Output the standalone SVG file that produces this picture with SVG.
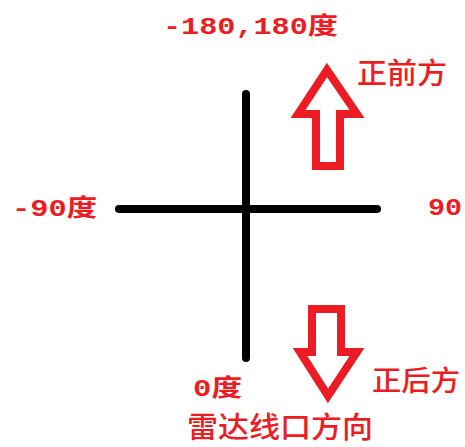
<svg xmlns="http://www.w3.org/2000/svg" width="465" height="447" viewBox="0 0 465 447">
<style>
.axis{stroke:#000;stroke-width:8;stroke-linecap:round;fill:none}
.arrow{stroke:#ED1C24;stroke-width:8;stroke-linejoin:miter;fill:#fff}
.lbl{fill:#ED1C24;font-family:"Liberation Mono","Noto Sans CJK SC",monospace;font-weight:bold}
.cjk{fill:#ED1C24;font-family:"Noto Sans CJK SC",sans-serif;font-weight:500}
</style>
<rect width="465" height="447" fill="#fff"/>
<g id="connectors">
<line class="axis" x1="246" y1="94" x2="246" y2="358"/>
<line class="axis" x1="119" y1="209" x2="377" y2="209"/>
</g>
<g id="arrow-front">
<path class="arrow" d="M327,70 L357,114 L340,114 L340,166 L316,166 L316,114 L298,114 Z"/>
</g>
<g id="arrow-back">
<path class="arrow" d="M312,309 L341,309 L341,352 L357,352 L328,396 L300,352 L312,352 Z"/>
</g>
<g id="label-top"><text class="lbl" x="163" y="34" font-size="24" textLength="175" lengthAdjust="spacingAndGlyphs">-180,180度</text></g>
<g id="label-front"><text class="cjk" x="357" y="84" font-size="29" textLength="90" lengthAdjust="spacingAndGlyphs">正前方</text></g>
<g id="label-left"><text class="lbl" x="12" y="216" font-size="24" textLength="85" lengthAdjust="spacingAndGlyphs">-90度</text></g>
<g id="label-right"><text class="lbl" x="428" y="215" font-size="24" textLength="34" lengthAdjust="spacingAndGlyphs">90</text></g>
<g id="label-zero"><text class="lbl" x="193" y="396" font-size="24" textLength="49" lengthAdjust="spacingAndGlyphs">0度</text></g>
<g id="label-back"><text class="cjk" x="372" y="391" font-size="28" textLength="88" lengthAdjust="spacingAndGlyphs">正后方</text></g>
<g id="label-radar"><text class="cjk" x="187" y="438" font-size="29" textLength="186" lengthAdjust="spacingAndGlyphs">雷达线口方向</text></g>
</svg>
